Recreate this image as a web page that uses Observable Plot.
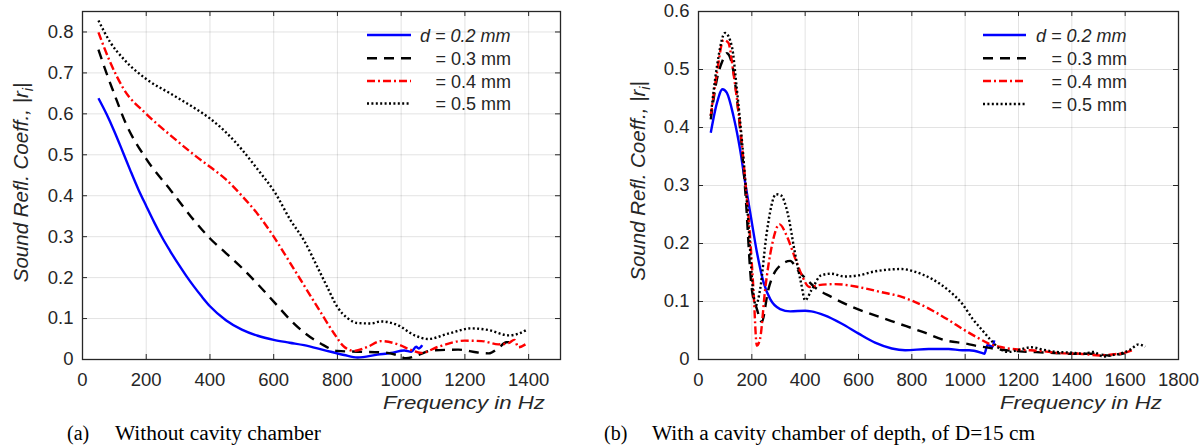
<!DOCTYPE html>
<html><head><meta charset="utf-8">
<script src="https://cdn.jsdelivr.net/npm/d3@7"></script>
<script src="https://cdn.jsdelivr.net/npm/@observablehq/plot@0.6"></script>
<style>
body{margin:0;background:#fff;}
#wrap{position:relative;width:1203px;height:448px;overflow:hidden;background:#fff;}
.pl{position:absolute;top:0;}
#ann{position:absolute;left:0;top:0;pointer-events:none;}
</style></head>
<body><div id="wrap"></div>
<script>
// ---------- Panel (a): without cavity chamber ----------
const aXTicks = [0, 200, 400, 600, 800, 1000, 1200, 1400];
const aYTicks = [0, 0.1, 0.2, 0.3, 0.4, 0.5, 0.6, 0.7, 0.8];
const aF02 = [50, 75, 100, 125, 150, 175, 200, 225, 250, 275, 300, 325, 350, 375, 400, 450, 500, 550, 600, 650, 695, 758, 821, 863, 926, 968, 1010, 1032, 1047, 1055, 1066];
const aV02 = [0.638, 0.60, 0.557, 0.51, 0.462, 0.416, 0.375, 0.335, 0.298, 0.265, 0.234, 0.205, 0.178, 0.153, 0.13, 0.096, 0.073, 0.058, 0.048, 0.041, 0.035, 0.023, 0.011, 0.005, 0.012, 0.016, 0.022, 0.019, 0.031, 0.027, 0.035];
const aF03 = [50, 75, 100, 134, 200, 277, 350, 401, 450, 500, 550, 605, 653, 700, 747, 800, 863, 950, 990, 1015, 1053, 1095, 1180, 1240, 1275, 1305, 1330, 1355];
const aV03 = [0.757, 0.70, 0.648, 0.58, 0.49, 0.413, 0.34, 0.295, 0.26, 0.224, 0.184, 0.137, 0.096, 0.063, 0.039, 0.021, 0.019, 0.017, 0.010, 0.003, 0.011, 0.022, 0.024, 0.017, 0.015, 0.028, 0.042, 0.043];
const aF04 = [50, 87, 129, 200, 277, 350, 401, 450, 500, 550, 600, 650, 700, 750, 790, 821, 853, 895, 937, 990, 1032, 1063, 1116, 1200, 1253, 1305, 1337, 1355, 1368, 1390];
const aV04 = [0.799, 0.726, 0.661, 0.60, 0.547, 0.50, 0.47, 0.44, 0.40, 0.355, 0.30, 0.238, 0.175, 0.112, 0.063, 0.031, 0.021, 0.031, 0.045, 0.037, 0.023, 0.016, 0.031, 0.046, 0.045, 0.037, 0.040, 0.048, 0.030, 0.037];
const aF05 = [50, 87, 129, 200, 277, 350, 401, 450, 500, 550, 603, 653, 695, 737, 768, 800, 832, 863, 905, 937, 989, 1042, 1084, 1147, 1221, 1274, 1337, 1368, 1395];
const aV05 = [0.828, 0.775, 0.734, 0.685, 0.649, 0.615, 0.588, 0.555, 0.513, 0.464, 0.409, 0.34, 0.291, 0.226, 0.177, 0.128, 0.101, 0.089, 0.088, 0.093, 0.084, 0.059, 0.050, 0.063, 0.076, 0.072, 0.059, 0.063, 0.073];

// ---------- Panel (b): with cavity chamber D = 15 cm ----------
const bXTicks = [0, 200, 400, 600, 800, 1000, 1200, 1400, 1600, 1800];
const bYTicks = [0, 0.1, 0.2, 0.3, 0.4, 0.5, 0.6];
const bF02 = [46, 69, 90, 106, 131, 156, 175, 194, 219, 244, 269, 306, 344, 400, 423, 473, 536, 599, 662, 725, 775, 863, 938, 989, 1015, 1065, 1072, 1084, 1103, 1109];
const bV02 = [0.391, 0.442, 0.466, 0.46, 0.42, 0.362, 0.305, 0.253, 0.185, 0.133, 0.104, 0.087, 0.083, 0.084, 0.083, 0.076, 0.062, 0.045, 0.029, 0.019, 0.016, 0.018, 0.018, 0.016, 0.016, 0.011, 0.010, 0.025, 0.022, 0.033];
const bF03 = [46, 69, 90, 106, 125, 150, 175, 200, 219, 237, 262, 294, 344, 372, 410, 435, 498, 574, 662, 750, 838, 926, 1009, 1047, 1078, 1116, 1204, 1304, 1392, 1481, 1543, 1600];
const bV03 = [0.414, 0.483, 0.515, 0.528, 0.511, 0.425, 0.293, 0.121, 0.087, 0.065, 0.121, 0.156, 0.17, 0.154, 0.136, 0.125, 0.108, 0.091, 0.076, 0.062, 0.048, 0.033, 0.027, 0.023, 0.021, 0.018, 0.014, 0.012, 0.010, 0.010, 0.007, 0.011];
const bF04 = [46, 69, 94, 112, 131, 156, 175, 194, 206, 219, 231, 250, 275, 304, 331, 362, 385, 416, 448, 511, 599, 687, 762, 813, 875, 938, 989, 1053, 1091, 1128, 1204, 1279, 1355, 1430, 1506, 1556, 1594, 1632];
const bV04 = [0.42, 0.494, 0.551, 0.546, 0.494, 0.402, 0.31, 0.207, 0.121, 0.024, 0.036, 0.121, 0.196, 0.233, 0.213, 0.175, 0.148, 0.125, 0.128, 0.13, 0.125, 0.116, 0.108, 0.099, 0.085, 0.068, 0.053, 0.036, 0.027, 0.022, 0.017, 0.015, 0.011, 0.010, 0.007, 0.009, 0.011, 0.017];
const bF05 = [46, 69, 100, 125, 144, 169, 187, 204, 215, 231, 256, 291, 309, 335, 360, 385, 400, 423, 460, 498, 548, 599, 662, 762, 813, 875, 938, 989, 1028, 1065, 1097, 1128, 1160, 1204, 1248, 1292, 1342, 1392, 1443, 1481, 1518, 1543, 1581, 1619, 1650, 1675];
const bV05 = [0.42, 0.505, 0.563, 0.54, 0.465, 0.345, 0.236, 0.121, 0.093, 0.121, 0.219, 0.285, 0.283, 0.251, 0.188, 0.131, 0.102, 0.119, 0.145, 0.148, 0.143, 0.145, 0.152, 0.156, 0.151, 0.139, 0.119, 0.096, 0.070, 0.050, 0.033, 0.019, 0.013, 0.017, 0.021, 0.017, 0.013, 0.012, 0.010, 0.013, 0.005, 0.007, 0.010, 0.017, 0.026, 0.022];

const legendLabels = ["d = 0.2 mm", "= 0.3 mm", "= 0.4 mm", "= 0.5 mm"];
const styles = [
  {stroke: "#0000ff", dash: null},
  {stroke: "#000000", dash: "10,7"},
  {stroke: "#ff0000", dash: "8,3,2,3"},
  {stroke: "#000000", dash: "2,2.4"}
];
const AX = "#262626";
const FONT = "'Liberation Sans', Arial, Helvetica, sans-serif";

function zip(f, v) { return f.map((x, i) => ({f: x, v: v[i]})); }

function makePlot({width, marginLeft, marginRight, xDomain, yDomain, xTicks, yTicks, series}) {
  const height = 389, mt = 11, mb = 30;
  const innerH = height - mt - mb, innerW = width - marginLeft - marginRight, t = 5;
  const marks = [
    Plot.gridX(xTicks, {stroke: AX, strokeOpacity: 0.13, strokeWidth: 1}),
    Plot.gridY(yTicks, {stroke: AX, strokeOpacity: 0.13, strokeWidth: 1}),
    Plot.tickX(xTicks, {x: d => d, insetTop: innerH - t, stroke: AX, strokeWidth: 1}),
    Plot.tickX(xTicks, {x: d => d, insetBottom: innerH - t, stroke: AX, strokeWidth: 1}),
    Plot.tickY(yTicks, {y: d => d, insetRight: innerW - t, stroke: AX, strokeWidth: 1}),
    Plot.tickY(yTicks, {y: d => d, insetLeft: innerW - t, stroke: AX, strokeWidth: 1}),
  ];
  series.forEach((s, i) => {
    marks.push(Plot.line(s, {x: "f", y: "v", stroke: styles[i].stroke, strokeWidth: 2.4,
      strokeDasharray: styles[i].dash, curve: "monotone-x", strokeLinecap: "butt", strokeLinejoin: "round"}));
  });
  marks.push(Plot.frame({stroke: AX, strokeWidth: 1.3}));
  marks.push(Plot.axisX({ticks: xTicks, tickSize: 0, tickPadding: 13, tickFormat: d => String(d), label: null, color: AX, fontSize: 18.5}));
  marks.push(Plot.axisY({ticks: yTicks, tickSize: 0, tickPadding: 9, tickFormat: d => String(d), label: null, color: AX, fontSize: 18.5}));
  return Plot.plot({
    width, height, marginLeft, marginRight, marginTop: mt, marginBottom: mb,
    x: {domain: xDomain}, y: {domain: yDomain},
    style: {fontFamily: FONT, fontSize: "18.5px", background: "transparent", overflow: "visible"},
    marks
  });
}

const wrap = document.getElementById("wrap");
const pa = makePlot({width: 600, marginLeft: 82, marginRight: 40, xDomain: [0, 1500], yDomain: [0, 0.85],
  xTicks: aXTicks, yTicks: aYTicks, series: [zip(aF02, aV02), zip(aF03, aV03), zip(aF04, aV04), zip(aF05, aV05)]});
pa.classList.add("pl"); pa.style.left = "0px";
wrap.appendChild(pa);
const pb = makePlot({width: 603, marginLeft: 98, marginRight: 25, xDomain: [0, 1800], yDomain: [0, 0.6],
  xTicks: bXTicks, yTicks: bYTicks, series: [zip(bF02, bV02), zip(bF03, bV03), zip(bF04, bV04), zip(bF05, bV05)]});
pb.classList.add("pl"); pb.style.left = "600px";
wrap.appendChild(pb);

// ---------- annotations: axis titles, legends, captions ----------
const NS = "http://www.w3.org/2000/svg";
const ann = document.createElementNS(NS, "svg");
ann.setAttribute("id", "ann"); ann.setAttribute("width", 1203); ann.setAttribute("height", 448);
wrap.appendChild(ann);
function el(tag, attrs, parent) {
  const e = document.createElementNS(NS, tag);
  for (const k in attrs) e.setAttribute(k, attrs[k]);
  (parent || ann).appendChild(e); return e;
}
function txt(str, attrs, parent) { const e = el("text", attrs, parent); e.textContent = str; return e; }

// x-axis titles
[[383, "Frequency in Hz"], [1000, "Frequency in Hz"]].forEach(([x, s]) => {
  txt(s, {x, y: 409, "font-family": FONT, "font-size": 19, "font-style": "italic", fill: AX,
    textLength: 162, lengthAdjust: "spacingAndGlyphs"});
});
// y-axis titles
[[28, 182.5], [644.5, 181]].forEach(([x, y]) => {
  const t = el("text", {transform: `translate(${x},${y}) rotate(-90)`, "text-anchor": "middle",
    "font-family": FONT, "font-size": 20.5, "font-style": "italic", fill: AX});
  const a = el("tspan", {}, t); a.textContent = "Sound Refl. Coeff., |r";
  const b = el("tspan", {dy: 5, "font-size": 14}, t); b.textContent = "i";
  const c = el("tspan", {dy: -5}, t); c.textContent = "|";
});
// legends
function legend(x0, x1, tx, ys) {
  ys.forEach((y, i) => {
    const ln = {x1: x0, x2: x1, y1: y, y2: y, stroke: styles[i].stroke, "stroke-width": 2.4};
    if (styles[i].dash) ln["stroke-dasharray"] = styles[i].dash;
    el("line", ln);
    const x = i === 0 ? tx : tx + 15.5;
    txt(legendLabels[i], {x, y: y + 6.5, "font-family": FONT, "font-size": 18, fill: AX,
      "font-style": i === 0 ? "italic" : "normal"});
  });
}
legend(367, 411, 420, [35, 58.3, 81, 103.5]);
legend(983, 1026, 1036, [35, 58.3, 81, 104]);
// captions
const SERIF = "'Liberation Serif', 'Times New Roman', serif";
txt("(a)", {x: 67, y: 440, "font-family": SERIF, "font-size": 20, fill: "#000"});
txt("Without cavity chamber", {x: 115, y: 440, "font-family": SERIF, "font-size": 20, fill: "#000", textLength: 206, lengthAdjust: "spacingAndGlyphs"});
txt("(b)", {x: 604, y: 440, "font-family": SERIF, "font-size": 20, fill: "#000"});
txt("With a cavity chamber of depth, of D=15 cm", {x: 652, y: 440, "font-family": SERIF, "font-size": 20, fill: "#000", textLength: 383, lengthAdjust: "spacingAndGlyphs"});
</script>
</body></html>
